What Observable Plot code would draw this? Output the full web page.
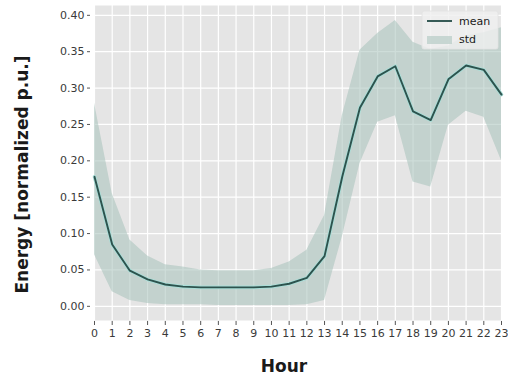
<!DOCTYPE html>
<html>
<head>
<meta charset="utf-8">
<script src="https://cdn.jsdelivr.net/npm/d3@7"></script>
<script src="https://cdn.jsdelivr.net/npm/@observablehq/plot@0.6"></script>
<style>
  html, body { margin: 0; padding: 0; background: #ffffff; }
  #chart { width: 508px; height: 376px; }
</style>
</head>
<body>
<div id="chart"></div>
<script>
// ---- data ----
const hours = [0,1,2,3,4,5,6,7,8,9,10,11,12,13,14,15,16,17,18,19,20,21,22,23];
const meanValues = [0.178,0.085,0.049,0.037,0.030,0.027,0.026,0.026,0.026,0.026,0.027,0.031,0.039,0.069,0.178,0.273,0.316,0.330,0.268,0.256,0.312,0.331,0.325,0.291];
const upperValues = [0.279,0.155,0.091,0.069,0.057,0.054,0.050,0.049,0.049,0.049,0.052,0.061,0.077,0.125,0.262,0.352,0.375,0.393,0.363,0.353,0.358,0.372,0.376,0.383];
const lowerValues = [0.071,0.020,0.008,0.004,0.002,0.002,0.002,0.001,0.001,0.001,0.001,0.001,0.002,0.008,0.095,0.196,0.253,0.262,0.171,0.164,0.249,0.268,0.260,0.200];
const yTicks = [0.00,0.05,0.10,0.15,0.20,0.25,0.30,0.35,0.40];
const seriesNames = ["mean", "std"];
const xTitle = "Hour";
const yTitle = "Energy [normalized p.u.]";

const rows = hours.map((h, i) => ({hour: h, mean: meanValues[i], lower: lowerValues[i], upper: upperValues[i]}));

const LINE = "#2d534e";
const HALO = "#a9ddd7";
const BAND = "#a8c2bc";
const BAND_OPACITY = 0.56;

function legendMark(index, scales, values, dimensions) {
  const {width, marginRight, marginTop} = dimensions;
  const x0 = width - marginRight - 79;
  const y0 = marginTop + 6;
  const g = d3.create("svg:g");
  g.append("rect")
    .attr("x", x0).attr("y", y0).attr("width", 76).attr("height", 38)
    .attr("rx", 2)
    .attr("fill", "#efefef").attr("fill-opacity", 0.82)
    .attr("stroke", "#e2e2e2").attr("stroke-width", 0.8);
  g.append("line")
    .attr("x1", x0 + 5).attr("x2", x0 + 30)
    .attr("y1", y0 + 10).attr("y2", y0 + 10)
    .attr("stroke", LINE).attr("stroke-width", 1.9);
  g.append("rect")
    .attr("x", x0 + 5).attr("y", y0 + 25).attr("width", 25).attr("height", 8)
    .attr("fill", BAND).attr("fill-opacity", BAND_OPACITY);
  const labels = [{t: seriesNames[0], y: y0 + 10}, {t: seriesNames[1], y: y0 + 28.5}];
  labels.forEach(d => {
    g.append("text")
      .attr("x", x0 + 37).attr("y", d.y).attr("dy", "0.35em")
      .attr("text-anchor", "start")
      .attr("font-family", "DejaVu Sans").attr("font-size", 11)
      .attr("fill", "#1a1a1a")
      .text(d.t);
  });
  return g.node();
}

const chart = Plot.plot({
  width: 508,
  height: 376,
  marginTop: 5,
  marginBottom: 56,
  marginLeft: 94,
  marginRight: 7,
  style: {fontFamily: "DejaVu Sans", fontSize: "11px", color: "#444444", background: "#ffffff"},
  x: {domain: [0, 23]},
  y: {domain: [-0.0195, 0.4135]},
  marks: [
    Plot.frame({fill: "#e5e5e5", stroke: null}),
    Plot.gridX(hours, {stroke: "#ffffff", strokeOpacity: 1, strokeWidth: 1.2}),
    Plot.gridY(yTicks, {stroke: "#ffffff", strokeOpacity: 1, strokeWidth: 1.2}),
    Plot.areaY(rows, {x: "hour", y1: "lower", y2: "upper", fill: BAND, fillOpacity: BAND_OPACITY}),
    Plot.line(rows, {x: "hour", y: "mean", stroke: HALO, strokeWidth: 3.6}),
    Plot.line(rows, {x: "hour", y: "mean", stroke: LINE, strokeWidth: 1.9}),
    Plot.axisX(hours, {tickSize: 4, tickPadding: 4, dy: 1, label: null, stroke: "#555", fill: "#3a3a3a", fontSize: 11}),
    Plot.axisY(yTicks, {tickSize: 3, tickPadding: 3, dx: -4, label: null, tickFormat: d3.format(".2f"), stroke: "#555", fill: "#3a3a3a", fontSize: 11}),
    Plot.text([xTitle], {text: d => d, frameAnchor: "bottom", lineAnchor: "bottom", dx: -14, dy: 51,
      fontFamily: "DejaVu Sans", fontWeight: "bold", fontSize: 17, fill: "#1a1a1a"}),
    Plot.text([yTitle], {text: d => d, frameAnchor: "left", rotate: -90, textAnchor: "middle", lineAnchor: "middle",
      dx: -72, dy: 11.5, fontFamily: "DejaVu Sans", fontWeight: "bold", fontSize: 17, fill: "#1a1a1a"}),
    legendMark
  ]
});
document.getElementById("chart").appendChild(chart);
</script>
</body>
</html>
